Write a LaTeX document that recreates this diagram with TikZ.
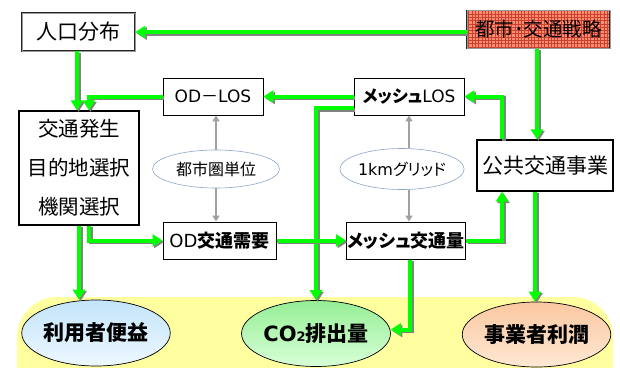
\documentclass[tikz,border=0pt]{standalone}
\usepackage{fontspec}
\setmainfont{Noto Sans CJK JP}[RawFeature=+palt]
\newfontfamily\lat{DejaVu Sans}
\usetikzlibrary{arrows.meta,shapes.geometric,calc}
\definecolor{grn}{RGB}{0,255,0}
\definecolor{shd}{RGB}{130,130,130}
\definecolor{ylw}{RGB}{255,255,160}
\definecolor{salmonA}{RGB}{255,140,115}
\definecolor{gridA}{RGB}{200,65,45}
\definecolor{ellb}{RGB}{140,165,200}
\definecolor{garw}{RGB}{160,160,160}
\tikzset{
  box/.style={draw=black, line width=0.8pt, fill=white, inner sep=0pt, align=center},
  dblbox/.style={draw=black!85, double=black!40, double distance=0.7pt, line width=0.5pt},
  ell/.style={ellipse, draw=ellb, line width=0.6pt, fill=white, inner sep=0pt},
  bell/.style={ellipse, draw=black, line width=0.7pt, inner sep=0pt, font=\fontsize{21}{21}\selectfont\bfseries},
  garrow/.style={draw=grn, line width=4pt, -{Triangle[length=10pt,width=12pt]}},
  gshadow/.style={draw=shd, line width=4pt, -{Triangle[length=10pt,width=12pt]}},
  grayarrow/.style={draw=garw, line width=1.6pt, -{Triangle[length=6pt,width=7pt]}},
}
\newcommand\garr[1]{%
  \draw[gshadow, transform canvas={shift={(1.5pt,-1.5pt)}}] #1;
  \draw[garrow] #1;}
\begin{document}
\begin{tikzpicture}[x=1pt,y=-1pt]
\useasboundingbox (0,0) rectangle (620,367);
% yellow background
\fill[ylw, rounded corners=40pt] (17,420) -- (17,297) -- (613,297) -- (613,420) -- cycle;

% boxes
\node[box, dblbox, minimum width=113pt, minimum height=38pt, font=\fontsize{21}{21}\selectfont] (pop) at (78.5,32) {人口分布};
\node[box, dblbox, fill=salmonA, minimum width=143pt, minimum height=38pt, font=\fontsize{19.5}{21}\selectfont,
  path picture={\draw[gridA, line width=0.3pt] (path picture bounding box.south west) grid[step=3.3pt] (path picture bounding box.north east);}] (strat) at (538.5,29.5) {都市･交通戦略};
\node[box, minimum width=100pt, minimum height=37pt, font=\fontsize{17}{17}\selectfont] (odlos) at (213,96.5) {{\lat OD}－{\lat LOS}};
\node[box, minimum width=110pt, minimum height=37pt, font=\fontsize{17}{17}\selectfont] (mlos) at (409,96.5) {\textbf{メッシュ}{\lat LOS}};
\node[box, line width=1.3pt, minimum width=120pt, minimum height=114pt, font=\fontsize{20.5}{39}\selectfont] (gen) at (79,168) {交通発生\\目的地選択\\機関選択};
\node[ell, minimum width=127pt, minimum height=38pt, font=\fontsize{16}{16}\selectfont] (city) at (216,169) {都市圏単位};
\node[ell, minimum width=118pt, minimum height=41pt, font=\fontsize{16}{16}\selectfont] (grid) at (402,169) {{\lat 1km}グリッド};
\node[box, line width=1.3pt, minimum width=136pt, minimum height=51pt, font=\fontsize{21}{21}\selectfont] (pub) at (545,165.5) {公共交通事業};
\node[box, line width=1pt, minimum width=113pt, minimum height=37pt, font=\fontsize{18}{18}\selectfont] (odd) at (219.5,240.5) {{\lat OD}\textbf{交通需要}};
\node[box, line width=1pt, minimum width=119pt, minimum height=37pt, font=\fontsize{18}{18}\selectfont\bfseries] (mq) at (406,240.5) {メッシュ交通量};

% bottom ellipses
\node[bell, top color={rgb,255:red,195;green,228;blue,250}, bottom color={rgb,255:red,238;green,248;blue,255}, minimum width=138pt, minimum height=66pt] (ben) at (96,333) {利用者便益};
\node[bell, top color={rgb,255:red,150;green,238;blue,150}, bottom color={rgb,255:red,215;green,255;blue,215}, minimum width=142pt, minimum height=66pt] (co2) at (316,333.5) {{\lat\bfseries CO{\fontsize{13}{13}\selectfont 2}}排出量};
\node[bell, top color={rgb,255:red,250;green,200;blue,160}, bottom color={rgb,255:red,255;green,232;blue,212}, minimum width=141pt, minimum height=65pt] (prof) at (536.5,334.5) {事業者利潤};

% helper coordinates
\coordinate (p1) at ([xshift=-1.5pt]pop.south);
\coordinate (g1) at ([xshift=10pt]gen.north);
\coordinate (g2) at ([xshift=10pt]gen.south);
\coordinate (m1) at ([yshift=-11.5pt]mlos.west);
\coordinate (pb1) at ([xshift=-43pt]pub.north);
\coordinate (pb2) at ([xshift=-43pt]pub.south);
\coordinate (pb3) at ([xshift=-10pt]pub.south);
\coordinate (s1) at ([xshift=-1.5pt]strat.south);
\coordinate (q1) at ([xshift=4pt]mq.south);
\coordinate (c1) at ([yshift=4pt]co2.east);
\coordinate (gx) at (mlos.south);

% gray arrows
\draw[grayarrow] (city.north) -- (city.north |- odlos.south);
\draw[grayarrow] (city.south) -- (city.south |- odd.north);
\draw[grayarrow] (gx |- grid.north) -- (gx);
\draw[grayarrow] (gx |- grid.south) -- (gx |- mq.north);

% green arrows
\garr{(pop.east -| strat.west) -- (pop.east)}
\garr{(s1) -- (s1 |- pub.north)}
\garr{(p1) -- (p1 |- gen.north)}
\garr{(odlos.west) -- (g1 |- odlos.west) -- (g1)}
\garr{(mlos.west) -- (odlos.east)}
\garr{(pb1) -- (pb1 |- mlos.east) -- (mlos.east)}
\garr{(m1) -- (m1 -| co2.north) -- (co2.north)}
\garr{(gen.south) -- (gen.south |- ben.north)}
\garr{(g2) -- (g2 |- odd.west) -- (odd.west)}
\garr{(odd.east) -- (mq.west)}
\garr{(mq.east) -- (mq.east -| pb2) -- (pb2)}
\garr{(q1) -- (q1 |- c1) -- (c1)}
\garr{(pb3) -- (pb3 |- prof.north)}
\end{tikzpicture}
\end{document}
